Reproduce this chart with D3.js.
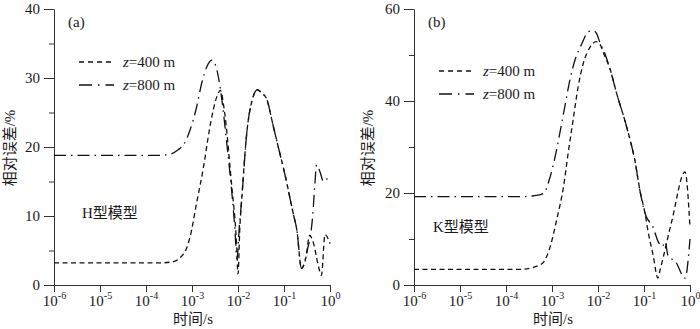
<!DOCTYPE html>
<html>
<head>
<meta charset="utf-8">
<script src="https://cdn.jsdelivr.net/npm/d3@7"></script>
<style>
    body { margin: 0; background: #fff; }
    svg text { font-family: "Liberation Serif", "Noto Sans CJK SC", serif; fill: #1a1a1a; }
    .axis path, .axis line { stroke: #333; stroke-width: 1; }
</style>
</head>
<body>
<script>
// time axis ticks (s)
var xTicks = [1e-6, 1e-5, 1e-4, 1e-3, 1e-2, 1e-1, 1];
var xExps = ["-6", "-5", "-4", "-3", "-2", "-1", "0"];

// (a) H model
var tA400 = [1e-6, 3.2e-5, 2.0e-4, 4.0e-4, 5.6e-4, 7.6e-4, 9.1e-4, 1.26e-3, 1.78e-3, 2.45e-3, 3.47e-3, 4.17e-3, 5.0e-3, 7.2e-3, 9.3e-3, 1.0e-2, 1.1e-2, 1.2e-2, 1.55e-2, 2.14e-2, 2.63e-2, 3.3e-2, 4.17e-2, 5.9e-2, 8.1e-2, 0.105, 0.158, 0.19, 0.24, 0.30, 0.36, 0.44, 0.54, 0.65, 0.78, 1];
var vA400 = [3.2, 3.2, 3.2, 3.4, 4.0, 5.3, 7.0, 11.9, 17.1, 22.9, 27.3, 28.2, 25.5, 14.8, 6.0, 1.6, 8.5, 12.3, 22.0, 27.3, 28.3, 27.8, 27.0, 22.9, 19.1, 16.0, 10.4, 8.0, 2.4, 4.0, 7.2, 6.0, 3.2, 1.4, 7.3, 6.0];
var tA800 = [1e-6, 3.2e-5, 2.0e-4, 3.5e-4, 5.0e-4, 6.5e-4, 9.1e-4, 1.26e-3, 1.62e-3, 2.09e-3, 2.69e-3, 3.47e-3, 4.47e-3, 5.6e-3, 6.8e-3, 8.5e-3, 9.5e-3, 1.07e-2, 1.2e-2, 1.55e-2, 2.14e-2, 2.63e-2, 3.3e-2, 4.17e-2, 5.9e-2, 8.1e-2, 0.105, 0.158, 0.19, 0.24, 0.32, 0.42, 0.47, 0.51, 0.60, 0.72, 1];
var vA800 = [18.8, 18.8, 18.8, 19.0, 19.6, 20.3, 22.5, 25.8, 29.2, 31.6, 32.6, 31.2, 26.8, 21.0, 15.7, 8.4, 3.8, 8.5, 12.3, 22.0, 27.3, 28.3, 27.8, 27.0, 22.9, 19.1, 16.0, 10.4, 8.0, 2.4, 5.0, 10.0, 14.7, 17.4, 16.5, 15.0, 16.0];

// (b) K model
var tB400 = [1e-6, 3.2e-5, 2.0e-4, 3.5e-4, 5.0e-4, 6.5e-4, 9.1e-4, 1.26e-3, 1.78e-3, 2.24e-3, 2.88e-3, 3.7e-3, 4.8e-3, 6.8e-3, 9.1e-3, 1.12e-2, 1.32e-2, 1.82e-2, 2.57e-2, 3.9e-2, 5.0e-2, 6.3e-2, 8.1e-2, 0.105, 0.126, 0.158, 0.2, 0.224, 0.4, 0.78, 1];
var vB400 = [3.4, 3.4, 3.4, 3.7, 4.2, 4.9, 8.3, 14.1, 21.4, 28.6, 35.9, 43.1, 48.2, 51.8, 52.9, 52.2, 50.4, 47.0, 41.5, 35.5, 31.5, 27.2, 20.7, 15.6, 11.0, 6.5, 1.5, 3.3, 13.8, 24.6, 12.5];
var tB800 = [1e-6, 3.2e-5, 2.0e-4, 4.0e-4, 6.5e-4, 9.1e-4, 1.17e-3, 1.48e-3, 1.9e-3, 2.45e-3, 3.16e-3, 4.47e-3, 6.2e-3, 7.9e-3, 9.3e-3, 1.12e-2, 1.32e-2, 1.82e-2, 2.57e-2, 3.9e-2, 5.0e-2, 6.3e-2, 8.1e-2, 0.105, 0.158, 0.2, 0.25, 0.29, 0.33, 0.49, 0.78, 1];
var vB800 = [19.2, 19.2, 19.2, 19.4, 19.9, 23.5, 27.9, 33.0, 38.8, 44.6, 48.9, 52.5, 55.1, 55.3, 54.7, 52.5, 51.0, 47.0, 41.5, 35.5, 31.5, 27.2, 20.7, 15.6, 12.5, 9.6, 8.4, 9.4, 6.5, 5.0, 1.5, 10.0];

(function () {
    var dash400 = "5,3.5";
    var dash800 = "12,5,1.5,5";

    var svg = d3.select("body").append("svg")
        .attr("width", 700)
        .attr("height", 329);

    function zip(t, v) {
        return t.map((d, i) => ({ t: d, v: v[i] }));
    }

    function drawPanel(p) {
        var top = 9, bottom = 285;
        var xScale = d3.scaleLog().domain([1e-6, 1]).range([p.left, p.right]);
        var yScale = d3.scaleLinear().domain([0, p.yMax]).range([bottom, top]);

        // minor y ticks
        svg.append("g")
            .attr("class", "axis")
            .attr("transform", "translate(" + p.left + ",0)")
            .call(d3.axisLeft(yScale).tickValues(p.yMinor).tickSize(5).tickFormat(""))
            .select(".domain").remove();

        var yAxis = svg.append("g")
            .attr("class", "axis")
            .attr("transform", "translate(" + p.left + ",0)")
            .call(d3.axisLeft(yScale).tickValues(p.yMajor).tickSize(10).tickSizeOuter(0).tickPadding(4));
        yAxis.selectAll("text").style("font-size", "15px").attr("fill", "#1a1a1a");

        var xAxis = svg.append("g")
            .attr("class", "axis")
            .attr("transform", "translate(0," + bottom + ")")
            .call(d3.axisBottom(xScale).tickValues(xTicks).tickSize(7).tickSizeOuter(0).tickFormat(""));
        var lab = xAxis.selectAll(".tick").append("text")
            .attr("y", 20.5)
            .attr("text-anchor", "middle")
            .attr("fill", "#1a1a1a")
            .style("font-size", "15px");
        lab.append("tspan").text("10");
        lab.append("tspan")
            .attr("dy", -7)
            .style("font-size", "10px")
            .text((d, i) => xExps[i]);

        var line = d3.line()
            .x((d) => xScale(d.t))
            .y((d) => yScale(d.v))
            .curve(d3.curveMonotoneX);

        svg.append("path")
            .datum(zip(p.t400, p.v400))
            .attr("d", line)
            .attr("fill", "none")
            .attr("stroke", "#111")
            .attr("stroke-width", 1.3)
            .attr("stroke-dasharray", dash400);

        svg.append("path")
            .datum(zip(p.t800, p.v800))
            .attr("d", line)
            .attr("fill", "none")
            .attr("stroke", "#111")
            .attr("stroke-width", 1.3)
            .attr("stroke-dasharray", dash800);

        // legend
        var leg = [{ y: p.legY, dash: "5,4", name: "=400 m" }, { y: p.legY + 23, dash: "13,6,1.5,6", name: "=800 m" }];
        leg.forEach((d) => {
            svg.append("line")
                .attr("x1", p.legX).attr("x2", p.legX + 35)
                .attr("y1", d.y).attr("y2", d.y)
                .attr("stroke", "#111")
                .attr("stroke-width", 1.3)
                .attr("stroke-dasharray", d.dash);
            var t = svg.append("text")
                .attr("x", p.legX + 44)
                .attr("y", d.y + 5)
                .style("font-size", "15px");
            t.append("tspan").style("font-style", "italic").text("z");
            t.append("tspan").text(d.name);
        });

        svg.append("text")
            .attr("x", p.left + 14)
            .attr("y", 27)
            .style("font-size", "15px")
            .text(p.tag);

        svg.append("text")
            .attr("x", p.left + p.modelDx)
            .attr("y", p.modelY)
            .style("font-size", "15px")
            .text(p.model);

        svg.append("text")
            .attr("transform", "translate(" + p.yLabelX + ",148) rotate(-90)")
            .attr("text-anchor", "middle")
            .attr("dominant-baseline", "central")
            .style("font-size", "15px")
            .text("相对误差/%");

        svg.append("text")
            .attr("x", (p.left + p.right) / 2 + 1)
            .attr("y", 324)
            .attr("text-anchor", "middle")
            .style("font-size", "15px")
            .text("时间/s");
    }

    drawPanel({
        left: 54, right: 330, yMax: 40,
        yMajor: [0, 10, 20, 30, 40], yMinor: [5, 15, 25, 35],
        t400: tA400, v400: vA400, t800: tA800, v800: vA800,
        legX: 79, legY: 62, tag: "(a)", model: "H型模型", modelDx: 28, modelY: 218,
        yLabelX: 10
    });

    drawPanel({
        left: 414, right: 690, yMax: 60,
        yMajor: [0, 20, 40, 60], yMinor: [10, 30, 50],
        t400: tB400, v400: vB400, t800: tB800, v800: vB800,
        legX: 439, legY: 71, tag: "(b)", model: "K型模型", modelDx: 19, modelY: 232,
        yLabelX: 368
    });
})();
</script>
</body>
</html>
